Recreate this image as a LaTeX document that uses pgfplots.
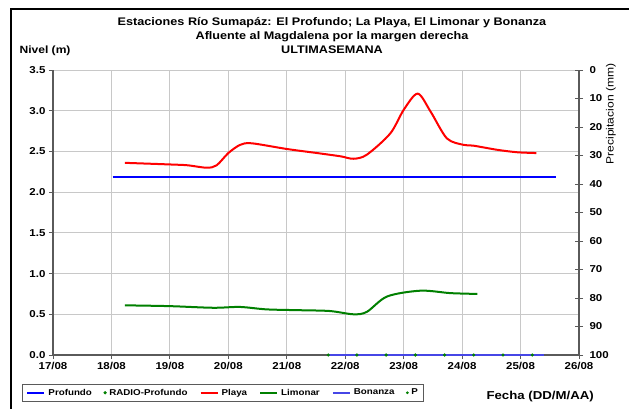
\documentclass[border=0pt]{standalone}
\usepackage{pgfplots}
\pgfplotsset{compat=1.18}
\usepackage{fontspec}
\setmainfont[FakeStretch=1.15]{Liberation Sans}
\definecolor{grd}{RGB}{200,200,200}
\definecolor{axc}{RGB}{90,90,90}
\definecolor{lim}{RGB}{0,128,0}
\definecolor{bon}{RGB}{70,70,230}
\begin{document}
\begin{tikzpicture}[x=1pt,y=1pt]
\useasboundingbox (0,0) rectangle (629,-409);
\fill[white] (0,0) rectangle (629,-409);
\draw[line width=2pt] (11,-412) -- (11,-9) -- (632,-9);
\node[font=\bfseries\fontsize{11}{14}\selectfont, align=center] at (332,-35.5)
 {Estaciones Río Sumapáz: El Profundo; La Playa, El Limonar y Bonanza\\Afluente al Magdalena por la margen derecha\\ULTIMASEMANA};
\node[font=\bfseries\fontsize{10.5}{12}\selectfont, anchor=west] at (16,-51) {Nivel (m)};
\node[font=\fontsize{10.5}{12}\selectfont, rotate=90] at (611,-114) {Precipitacion (mm)};
\node[font=\bfseries\fontsize{11.5}{13}\selectfont, anchor=west] at (483,-397) {Fecha (DD/M/AA)};
\begin{axis}[at={(53pt,-355pt)}, anchor=south west, scale only axis,
 width=526pt, height=285pt,
 xmin=17, xmax=26, ymin=0, ymax=3.5,
 xtick={17,18,19,20,21,22,23,24,25,26},
 xticklabels={17/08,18/08,19/08,20/08,21/08,22/08,23/08,24/08,25/08,26/08},
 ytick={0,0.5,1,1.5,2,2.5,3,3.5},
 yticklabel style={/pgf/number format/.cd, fixed, fixed zerofill, precision=1},
 /pgf/number format/assume math mode=true,
 tick label style={font=\bfseries\fontsize{10}{12}\selectfont},
 axis x line*=bottom, axis y line*=left,
 axis line style={axc, line width=1.2pt, -},
 tick style={axc, line width=0.8pt}, major tick length=4pt, tick align=outside,
 grid=major, grid style={grd, line width=0.8pt},
 legend columns=6,
 legend style={at={(-0.0589,-0.1018)}, anchor=north west, draw=axc, line width=0.8pt,
   font=\bfseries\fontsize{8.5}{10}\selectfont, inner xsep=4pt, inner ysep=2.5pt,
   /tikz/every odd column/.append style={column sep=1pt},
   /tikz/every even column/.append style={column sep=10pt}},
 legend cell align=left,
]
\addplot[blue, line width=2pt, forget plot] coordinates {(18.02,2.18)(25.6,2.18)};
\addplot[red, line width=2pt, smooth, tension=0.5, forget plot] coordinates {
(18.23,2.36)(19.0,2.34)(19.3,2.33)(19.63,2.30)(19.8,2.33)(20.0,2.48)(20.2,2.58)(20.4,2.60)
(21.0,2.53)(21.52,2.48)(21.92,2.44)(22.14,2.41)(22.37,2.46)(22.77,2.72)(23.0,3.01)(23.24,3.21)
(23.46,2.99)(23.74,2.66)(24.03,2.58)(24.2,2.57)(24.6,2.52)(24.94,2.49)(25.27,2.48)};
\addplot[lim, line width=2pt, smooth, tension=0.5, forget plot] coordinates {
(18.23,0.61)(19.0,0.60)(19.74,0.58)(20.2,0.59)(20.66,0.56)(21.23,0.55)(21.74,0.54)(22.14,0.50)
(22.37,0.53)(22.72,0.72)(23.29,0.79)(23.8,0.76)(24.26,0.75)};
\addplot[bon, line width=1.8pt, forget plot] coordinates {(21.71,0)(25.4,0)};
\addplot[only marks, mark=*, mark size=1.4pt, lim, forget plot] coordinates {
(21.71,0)(22.2,0)(22.7,0)(23.2,0)(23.7,0)(24.2,0)(24.7,0)(25.2,0)};
\addlegendimage{blue, line width=2pt}
\addlegendentry{Profundo}
\addlegendimage{only marks, mark=*, mark size=1.2pt, lim}
\addlegendentry{RADIO-Profundo}
\addlegendimage{red, line width=2pt}
\addlegendentry{Playa}
\addlegendimage{lim, line width=2pt}
\addlegendentry{Limonar}
\addlegendimage{bon, line width=2pt}
\addlegendentry{Bonanza}
\addlegendimage{only marks, mark=*, mark size=0.9pt, lim}
\addlegendentry{P}
\end{axis}
\begin{axis}[at={(53pt,-355pt)}, anchor=south west, scale only axis,
 width=526pt, height=285pt,
 xmin=17, xmax=26, ymin=0, ymax=100, y dir=reverse,
 axis x line=none, axis y line*=right,
 ytick={0,10,20,30,40,50,60,70,80,90,100},
 /pgf/number format/assume math mode=true,
 tick label style={font=\bfseries\fontsize{10}{12}\selectfont},
 axis line style={axc, line width=1.2pt, -},
 tick style={axc, line width=0.8pt}, major tick length=8pt, tick align=center,
 yticklabel style={xshift=3pt},
]
\addplot[draw=none, forget plot] coordinates {(17,0)(26,100)};
\end{axis}
\end{tikzpicture}
\end{document}
